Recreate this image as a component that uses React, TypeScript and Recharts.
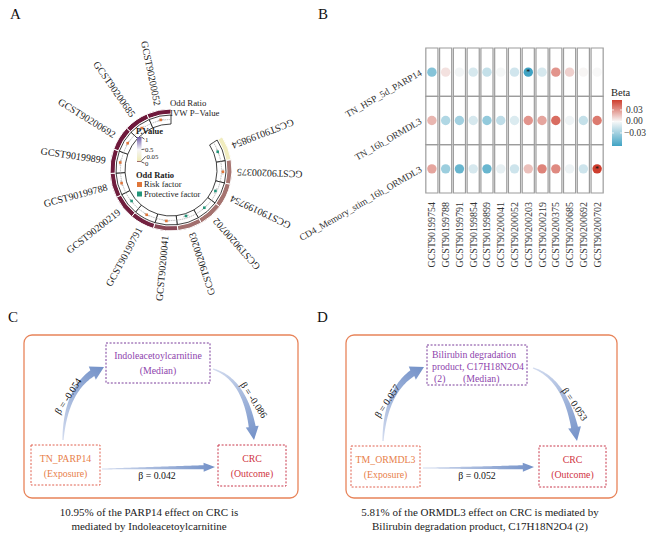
import React from "react";
import {
  Cell,
  Pie,
  PieChart,
  ReferenceArea,
  Scatter,
  ScatterChart,
  XAxis,
  YAxis,
} from "recharts";

const FONT = '"Liberation Serif", "Times New Roman", serif';

// ---------- panel A data (clockwise from the gap) ----------
const gwasIds = [
  "GCST90199854",
  "GCST90200375",
  "GCST90199754",
  "GCST90200702",
  "GCST90200203",
  "GCST90200041",
  "GCST90199791",
  "GCST90200219",
  "GCST90199788",
  "GCST90199899",
  "GCST90200692",
  "GCST90200685",
  "GCST90200052",
];
const ivwP = [0.09, 0.023, 0.022, 0.022, 0.021, 0.012, 0.003, 0.002, 0.002, 0.001, 0.001, 0.001, 0.001];
const oddRatio = [0.985, 1.03, 0.96, 0.99, 0.94, 1.01, 1.005, 0.985, 1.01, 1.015, 1.005, 1.01, 1.01];
const pLegendTicks = [1, 0.5, 0.05, 0];

// ---------- panel B data ----------
const betaRows = ["TN_HSP_5d_PARP14", "TN_16h_ORMDL3", "CD4_Memory_stim_16h_ORMDL3"];
const betaCols = [
  "GCST90199754",
  "GCST90199788",
  "GCST90199791",
  "GCST90199854",
  "GCST90199899",
  "GCST90200041",
  "GCST90200052",
  "GCST90200203",
  "GCST90200219",
  "GCST90200375",
  "GCST90200685",
  "GCST90200692",
  "GCST90200702",
];
const betaHSP = [-0.04, 0.007, -0.002, -0.012, -0.018, -0.001, -0.014, -0.064, -0.012, 0.03, 0.012, 0.001, 0.0];
const beta16h = [0.02, -0.025, -0.03, -0.012, -0.035, -0.02, -0.01, 0.03, 0.025, 0.042, -0.003, -0.018, 0.038];
const betaCD4 = [0.025, -0.032, -0.05, -0.012, -0.05, -0.006, -0.015, 0.017, 0.035, 0.033, -0.004, -0.015, 0.056];
const betaSig = [
  [0, 7],
  [2, 12],
];
const betaTicks = [0.03, 0, -0.03];

// ---------- panels C / D text ----------
const exposuresCD = ["TN_PARP14", "TM_ORMDL3"];
const mediatorsCD = [["Indoleacetoylcarnitine"], ["Bilirubin degradation", "product, C17H18N2O4", "(2)"]];
const pathBetas = [
  ["β = -0.054", "β = -0.086", "β = 0.042"],
  ["β = 0.057", "β = 0.053", "β = 0.052"],
];
const captions = [
  ["10.95% of the PARP14 effect on CRC is", "mediated by Indoleacetoylcarnitine"],
  ["5.81% of the ORMDL3 effect on CRC is mediated by", "Bilirubin degradation product, C17H18N2O4 (2)"],
];

// ---------- helpers ----------
const mix = (a: number[], b: number[], t: number) =>
  `rgb(${a.map((v, i) => Math.round(v + (b[i] - v) * t)).join(",")})`;

const P_STOPS: [number, number[]][] = [
  [0, [107, 21, 56]],
  [0.05, [239, 235, 184]],
  [0.5, [246, 245, 248]],
  [1, [108, 90, 166]],
];
const pColor = (p: number) => {
  for (let i = 1; i < P_STOPS.length; i++) {
    const [p0, c0] = P_STOPS[i - 1];
    const [p1, c1] = P_STOPS[i];
    if (p <= p1) return mix(c0, c1, (p - p0) / (p1 - p0));
  }
  return mix(P_STOPS[3][1], P_STOPS[3][1], 0);
};

const allBeta = [...betaHSP, ...beta16h, ...betaCD4];
const BETA_MIN = Math.min(...allBeta);
const BETA_MAX = Math.max(...allBeta);
const LOW = [64, 163, 196];
const MID = [248, 248, 248];
const HIGH = [206, 62, 46];
const betaColor = (v: number) =>
  v < 0 ? mix(MID, LOW, v / BETA_MIN) : mix(MID, HIGH, v / BETA_MAX);

const RISK = "#e0763a";
const PROTECT = "#23957a";

// ---------- panel A ----------
const ringData = gwasIds.map((id, i) => ({ name: id, value: 1, p: ivwP[i], or: oddRatio[i] }));

const renderGwasLabel = (props: any) => {
  const { cx, cy, midAngle, index } = props;
  const r = 66;
  const rad = (-midAngle * Math.PI) / 180;
  const x = cx + r * Math.cos(rad);
  const y = cy + r * Math.sin(rad);
  const rot = 180 - midAngle;
  return (
    <text
      key={"lab" + index}
      x={x}
      y={y}
      transform={`rotate(${rot} ${x} ${y})`}
      textAnchor="end"
      dominantBaseline="central"
      fontSize={10}
      fontFamily={FONT}
      fill="#222"
    >
      {gwasIds[index]}
    </text>
  );
};

const renderOrPoint = (props: any) => {
  const { cx, cy, midAngle, index } = props;
  const or = oddRatio[index];
  const r = 47.5 + ((or - 0.92) / 0.16) * 6.5;
  const rad = (-midAngle * Math.PI) / 180;
  const x = cx + r * Math.cos(rad);
  const y = cy + r * Math.sin(rad);
  const tx = -Math.sin(rad);
  const ty = Math.cos(rad);
  return (
    <g key={"or" + index}>
      <line x1={x - tx * 3} y1={y - ty * 3} x2={x + tx * 3} y2={y + ty * 3} stroke="#888" strokeWidth={0.5} />
      <rect
        x={x - 1.3}
        y={y - 1.3}
        width={2.6}
        height={2.6}
        fill={or >= 1 ? RISK : PROTECT}
      />
    </g>
  );
};

const CircosPanel = () => (
  <PieChart width={330} height={305}>
    <Pie
      data={ringData}
      dataKey="value"
      cx={166}
      cy={165}
      innerRadius={56}
      outerRadius={61}
      startAngle={33}
      endAngle={-270}
      stroke="#fff"
      strokeWidth={1}
      label={renderGwasLabel}
      labelLine={false}
      isAnimationActive={false}
    >
      {ringData.map((d) => (
        <Cell key={d.name} fill={pColor(d.p)} />
      ))}
    </Pie>
    <Pie
      data={ringData}
      dataKey="value"
      cx={166}
      cy={165}
      innerRadius={46}
      outerRadius={55}
      startAngle={33}
      endAngle={-270}
      fill="#fff"
      stroke="#111"
      strokeWidth={0.8}
      label={renderOrPoint}
      labelLine={false}
      isAnimationActive={false}
    />
    <Pie
      data={ringData}
      dataKey="value"
      cx={166}
      cy={165}
      innerRadius={50.4}
      outerRadius={50.6}
      startAngle={33}
      endAngle={-270}
      fill="none"
      stroke="#9a9a9a"
      strokeWidth={0.5}
      strokeDasharray="1.2 1.2"
      isAnimationActive={false}
    />
  </PieChart>
);

// ---------- panel B ----------
const betaPoints = [betaHSP, beta16h, betaCD4].flatMap((row, r) =>
  row.map((beta, c) => ({
    x: c + 0.5,
    y: r + 0.5,
    beta,
    sig: betaSig.some(([sr, sc]) => sr === r && sc === c),
  }))
);

const renderBetaDot = (props: any) => {
  const { cx, cy, payload } = props;
  return (
    <g>
      <circle cx={cx} cy={cy} r={4.7} fill={betaColor(payload.beta)} />
      {payload.sig && (
        <text x={cx} y={cy + 3.2} textAnchor="middle" fontSize={8} fill="#111" fontFamily={FONT}>
          *
        </text>
      )}
    </g>
  );
};

const ColTick = (props: any) => {
  const { x, y, payload } = props;
  const yy = y + 1;
  return (
    <text
      x={x}
      y={yy}
      transform={`rotate(-90 ${x} ${yy})`}
      textAnchor="end"
      dominantBaseline="central"
      fontSize={10}
      fontFamily={FONT}
      fill="#333"
    >
      {betaCols[Math.floor(payload.value)]}
    </text>
  );
};

const RowTick = (props: any) => {
  const { x, y, payload } = props;
  const xx = x + 4;
  return (
    <text
      x={xx}
      y={y}
      transform={`rotate(-30 ${xx} ${y})`}
      textAnchor="end"
      dominantBaseline="central"
      fontSize={9.5}
      fontFamily={FONT}
      fill="#333"
    >
      {betaRows[Math.floor(payload.value)]}
    </text>
  );
};

const DotPanel = () => (
  <ScatterChart width={371} height={290} margin={{ top: 48, right: 47, bottom: 17, left: 45 }}>
    {betaCols.flatMap((_, c) =>
      betaRows.map((_r, r) => (
        <ReferenceArea
          key={`cell${c}-${r}`}
          x1={c + 0.06}
          x2={c + 0.94}
          y1={r}
          y2={r + 1}
          fill="#fff"
          fillOpacity={0}
          stroke="#9c9c9c"
          strokeWidth={1.2}
          strokeOpacity={1}
        />
      ))
    )}
    <XAxis
      type="number"
      dataKey="x"
      domain={[0, 13]}
      ticks={betaCols.map((_, i) => i + 0.5)}
      interval={0}
      tick={<ColTick />}
      axisLine={false}
      tickLine={false}
      height={80}
    />
    <YAxis
      type="number"
      dataKey="y"
      domain={[0, 3]}
      reversed
      ticks={[0.5, 1.5, 2.5]}
      interval={0}
      tick={<RowTick />}
      axisLine={false}
      tickLine={false}
      width={100}
    />
    <Scatter data={betaPoints} shape={renderBetaDot} isAnimationActive={false} />
  </ScatterChart>
);

// ---------- panels C / D ----------
type Pt = [number, number];
const arrowPath = (p0: Pt, c: Pt, tip: Pt, w0: number, w1: number, headW: number, headL: number) => {
  const N = 60;
  const pts: Pt[] = [];
  for (let i = 0; i <= N; i++) {
    const t = i / N;
    const a = (1 - t) * (1 - t);
    const b = 2 * (1 - t) * t;
    const d = t * t;
    pts.push([a * p0[0] + b * c[0] + d * tip[0], a * p0[1] + b * c[1] + d * tip[1]]);
  }
  const len = [0];
  for (let i = 1; i <= N; i++)
    len.push(len[i - 1] + Math.hypot(pts[i][0] - pts[i - 1][0], pts[i][1] - pts[i - 1][1]));
  const shaftLen = len[N] - headL;
  let k = 0;
  while (k < N && len[k + 1] <= shaftLen) k++;
  const left: Pt[] = [];
  const right: Pt[] = [];
  for (let i = 0; i <= k; i++) {
    const q = pts[Math.min(i + 1, N)];
    const pr = pts[Math.max(i - 1, 0)];
    const dx = q[0] - pr[0];
    const dy = q[1] - pr[1];
    const l = Math.hypot(dx, dy);
    const nx = -dy / l;
    const ny = dx / l;
    const w = w0 + (w1 - w0) * (len[i] / shaftLen);
    left.push([pts[i][0] + (nx * w) / 2, pts[i][1] + (ny * w) / 2]);
    right.push([pts[i][0] - (nx * w) / 2, pts[i][1] - (ny * w) / 2]);
  }
  const base = pts[k];
  const dx = tip[0] - base[0];
  const dy = tip[1] - base[1];
  const l = Math.hypot(dx, dy);
  const nx = -dy / l;
  const ny = dx / l;
  const h1: Pt = [base[0] + (nx * headW) / 2, base[1] + (ny * headW) / 2];
  const h2: Pt = [base[0] - (nx * headW) / 2, base[1] - (ny * headW) / 2];
  const all = [...left, h1, tip, h2, ...right.reverse()];
  return "M" + all.map((p) => `${p[0].toFixed(2)},${p[1].toFixed(2)}`).join("L") + "Z";
};

interface ArrowSpec {
  p0: Pt;
  c: Pt;
  tip: Pt;
  w0: number;
  w1: number;
  headW: number;
  headL: number;
}
interface BoxSpec {
  x: number;
  y: number;
  w: number;
  h: number;
}
interface LabelSpec {
  x: number;
  y: number;
  rot: number;
}
interface DiagramLayout {
  frame: BoxSpec;
  med: BoxSpec;
  exp: BoxSpec;
  out: BoxSpec;
  arrows: ArrowSpec[];
  labels: LabelSpec[];
  capX: number;
}

const layoutC: DiagramLayout = {
  frame: { x: 24, y: 335, w: 274, h: 163 },
  med: { x: 106, y: 343, w: 104, h: 40 },
  exp: { x: 31, y: 445, w: 69, h: 40 },
  out: { x: 218, y: 445, w: 68, h: 41 },
  arrows: [
    { p0: [63, 440], c: [66, 382], tip: [104, 367], w0: 1.2, w1: 7, headW: 15, headL: 13 },
    { p0: [213, 369], c: [248, 380], tip: [254, 440], w0: 1.2, w1: 7, headW: 13, headL: 13 },
    { p0: [102, 469], c: [158, 468], tip: [215, 467], w0: 0.8, w1: 4, headW: 9, headL: 10 },
  ],
  labels: [
    { x: 68, y: 396, rot: -57 },
    { x: 254, y: 400, rot: 57 },
    { x: 157, y: 475, rot: 0 },
  ],
  capX: 149,
};

const layoutD: DiagramLayout = {
  frame: { x: 346, y: 335, w: 271, h: 163 },
  med: { x: 427, y: 345, w: 100, h: 40 },
  exp: { x: 351, y: 446, w: 69, h: 41 },
  out: { x: 539, y: 446, w: 67, h: 41 },
  arrows: [
    { p0: [383, 441], c: [386, 382], tip: [424, 367], w0: 1.2, w1: 7, headW: 15, headL: 13 },
    { p0: [533, 368], c: [568, 380], tip: [577, 441], w0: 1.2, w1: 7, headW: 13, headL: 13 },
    { p0: [423, 468], c: [478, 468], tip: [534, 467], w0: 0.8, w1: 4, headW: 9, headL: 10 },
  ],
  labels: [
    { x: 387, y: 401, rot: -57 },
    { x: 575, y: 404, rot: 56 },
    { x: 477, y: 475, rot: 0 },
  ],
  capX: 480,
};

const Diagram = ({ idx, lay }: { idx: number; lay: DiagramLayout }) => {
  const { frame, med, exp, out } = lay;
  const med2 = mediatorsCD[idx].length > 1;
  return (
    <g fontFamily={FONT}>
      <defs>
        {lay.arrows.map((a, i) => (
          <linearGradient
            key={i}
            id={`ag${idx}-${i}`}
            gradientUnits="userSpaceOnUse"
            x1={a.p0[0]}
            y1={a.p0[1]}
            x2={a.tip[0]}
            y2={a.tip[1]}
          >
            <stop offset="0" stopColor="#d3dcef" />
            <stop offset="1" stopColor="#7391c8" />
          </linearGradient>
        ))}
      </defs>
      <rect x={frame.x} y={frame.y} width={frame.w} height={frame.h} rx={8} fill="none" stroke="#e8845a" strokeWidth={1.3} />
      <rect x={med.x} y={med.y} width={med.w} height={med.h} fill="none" stroke="#7a3d9a" strokeWidth={1} strokeDasharray="2 1.6" />
      <rect x={exp.x} y={exp.y} width={exp.w} height={exp.h} fill="none" stroke="#e0604e" strokeWidth={1} strokeDasharray="2 1.6" />
      <rect x={out.x} y={out.y} width={out.w} height={out.h} fill="none" stroke="#c8364a" strokeWidth={1} strokeDasharray="2 1.6" />
      {lay.arrows.map((a, i) => (
        <path key={i} d={arrowPath(a.p0, a.c, a.tip, a.w0, a.w1, a.headW, a.headL)} fill={`url(#ag${idx}-${i})`} />
      ))}
      {med2 ? (
        <g fontSize={9.8} fill="#8e44ad">
          <text x={med.x + 5} y={med.y + 13}>{mediatorsCD[idx][0]}</text>
          <text x={med.x + 5} y={med.y + 25}>{mediatorsCD[idx][1]}</text>
          <text x={med.x + 7} y={med.y + 37}>{mediatorsCD[idx][2]}</text>
          <text x={med.x + 36} y={med.y + 37}>(Median)</text>
        </g>
      ) : (
        <g fontSize={9.8} fill="#8e44ad" textAnchor="middle">
          <text x={med.x + med.w / 2} y={med.y + 16}>{mediatorsCD[idx][0]}</text>
          <text x={med.x + med.w / 2} y={med.y + 31}>(Median)</text>
        </g>
      )}
      <g fontSize={9.8} fill="#e8804a" textAnchor="middle">
        <text x={exp.x + exp.w / 2} y={exp.y + 17}>{exposuresCD[idx]}</text>
        <text x={exp.x + exp.w / 2} y={exp.y + 32}>(Exposure)</text>
      </g>
      <g fontSize={9.8} fill="#d0343f" textAnchor="middle">
        <text x={out.x + out.w / 2} y={out.y + 17}>CRC</text>
        <text x={out.x + out.w / 2} y={out.y + 32}>(Outcome)</text>
      </g>
      {lay.labels.map((lb, i) => (
        <text
          key={i}
          x={lb.x}
          y={lb.y}
          transform={`rotate(${lb.rot} ${lb.x} ${lb.y})`}
          textAnchor="middle"
          dominantBaseline="central"
          fontSize={9.8}
          fill="#111"
        >
          {pathBetas[idx][i]}
        </text>
      ))}
      <g fontSize={11} fill="#222" textAnchor="middle">
        <text x={lay.capX} y={515.5}>{captions[idx][0]}</text>
        <text x={lay.capX} y={530}>{captions[idx][1]}</text>
      </g>
    </g>
  );
};

// ---------- overlays ----------
const BETA_BAR = { x: 612, y: 100, w: 10, h: 46 };
const betaY = (v: number) => BETA_BAR.y + ((BETA_MAX - v) / (BETA_MAX - BETA_MIN)) * BETA_BAR.h;
const fmtBeta = (v: number) => (v < 0 ? "\u2212" : "") + Math.abs(v).toFixed(2);

// p-value legend: bar spans y 137..162, label baselines nudged apart like the original
const P_BAR = { x: 137, y: 137, w: 4.5, h: 25 };
const pLabelY = [141.5, 151.5, 158.5, 165.5];
const pLabelX = [145, 145, 146.5, 145];

const Overlay = () => (
  <svg width={651} height={536} style={{ position: "absolute", left: 0, top: 0, pointerEvents: "none" }}>
    <defs>
      <linearGradient id="pgrad" x1="0" y1="1" x2="0" y2="0">
        {[0, 0.05, 0.5, 1].map((p) => (
          <stop key={p} offset={p} stopColor={pColor(p)} />
        ))}
      </linearGradient>
      <linearGradient id="bgrad" x1="0" y1="0" x2="0" y2="1">
        <stop offset="0" stopColor={betaColor(BETA_MAX)} />
        <stop offset={BETA_MAX / (BETA_MAX - BETA_MIN)} stopColor={betaColor(0)} />
        <stop offset="1" stopColor={betaColor(BETA_MIN)} />
      </linearGradient>
    </defs>
    <g fontFamily={FONT} fill="#111">
      <text x={10} y={19} fontSize={15}>A</text>
      <text x={318} y={19} fontSize={15}>B</text>
      <text x={8} y={322} fontSize={15}>C</text>
      <text x={317} y={322} fontSize={15}>D</text>
    </g>

    {/* panel A legend */}
    <g fontFamily={FONT} fill="#222">
      <text x={170} y={106} fontSize={8.8}>Odd Ratio</text>
      <text x={170} y={116} fontSize={8.8}>{"IVW P\u2212Value"}</text>
      <text x={136} y={134} fontSize={8.5} fontWeight="bold">P.Value</text>
      <rect x={P_BAR.x} y={P_BAR.y} width={P_BAR.w} height={P_BAR.h} fill="url(#pgrad)" />
      {pLegendTicks.map((p, i) => {
        const ty = P_BAR.y + (1 - p) * P_BAR.h;
        return (
          <g key={p}>
            <line
              x1={P_BAR.x + P_BAR.w}
              y1={ty}
              x2={pLabelX[i] - 0.5}
              y2={pLabelY[i] - 2.3}
              stroke="#111"
              strokeWidth={0.7}
            />
            <text x={pLabelX[i]} y={pLabelY[i]} fontSize={6.8}>
              {p}
            </text>
          </g>
        );
      })}
      <text x={136} y={178} fontSize={8.5} fontWeight="bold">Odd Ratio</text>
      <rect x={137} y={182} width={5} height={5} fill={RISK} />
      <text x={144} y={187} fontSize={8.5}>Risk factor</text>
      <rect x={137} y={191.5} width={5} height={5} fill={PROTECT} />
      <text x={144} y={196.5} fontSize={8.5}>Protective factor</text>
    </g>

    {/* panel B legend */}
    <g fontFamily={FONT}>
      <text x={611} y={96} fontSize={10.5} fill="#222">Beta</text>
      <rect x={BETA_BAR.x} y={BETA_BAR.y} width={BETA_BAR.w} height={BETA_BAR.h} fill="url(#bgrad)" />
      {betaTicks.map((v) => (
        <g key={v}>
          <line x1={BETA_BAR.x} x2={BETA_BAR.x + 2} y1={betaY(v)} y2={betaY(v)} stroke="#fff" strokeWidth={0.8} />
          <line x1={BETA_BAR.x + BETA_BAR.w - 2} x2={BETA_BAR.x + BETA_BAR.w} y1={betaY(v)} y2={betaY(v)} stroke="#fff" strokeWidth={0.8} />
          <text x={v < 0 ? 624 : 626} y={betaY(v)} dominantBaseline="central" fontSize={9.5} fill="#333">
            {fmtBeta(v)}
          </text>
        </g>
      ))}
    </g>

    <Diagram idx={0} lay={layoutC} />
    <Diagram idx={1} lay={layoutD} />
  </svg>
);

export default function App() {
  return (
    <div
      style={{
        position: "absolute",
        left: 0,
        top: 0,
        width: 651,
        height: 536,
        background: "#fff",
        overflow: "hidden",
        fontFamily: FONT,
      }}
    >
      <div style={{ position: "absolute", left: 0, top: 0 }}>
        <CircosPanel />
      </div>
      <div style={{ position: "absolute", left: 280, top: 0 }}>
        <DotPanel />
      </div>
      <Overlay />
    </div>
  );
}
